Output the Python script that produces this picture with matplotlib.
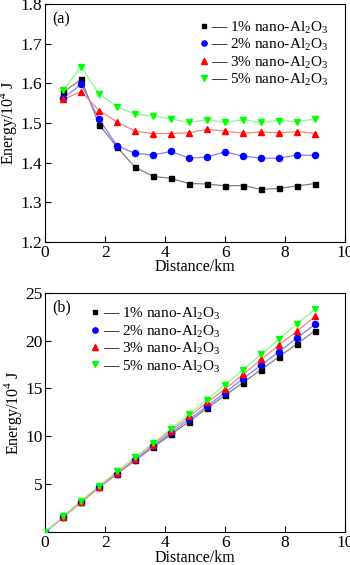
import numpy as np
import matplotlib
matplotlib.use("Agg")
import matplotlib.pyplot as plt

plt.rcParams['font.family'] = ['Liberation Serif', 'DejaVu Serif']
plt.rcParams['mathtext.fontset'] = 'custom'
plt.rcParams['mathtext.rm'] = 'Liberation Serif'

# (a) energy per segment
dist_a = [0.6, 1.2, 1.8, 2.4, 3.0, 3.6, 4.2, 4.8, 5.4, 6.0, 6.6, 7.2, 7.8, 8.4, 9.0]
e1_a = [1.577, 1.610, 1.495, 1.439, 1.388, 1.365, 1.360, 1.347, 1.346, 1.341, 1.342, 1.332, 1.335, 1.341, 1.347]
e2_a = [1.563, 1.597, 1.509, 1.442, 1.423, 1.419, 1.428, 1.411, 1.414, 1.427, 1.416, 1.411, 1.411, 1.419, 1.418]
e3_a = [1.559, 1.579, 1.531, 1.502, 1.479, 1.473, 1.473, 1.475, 1.484, 1.479, 1.474, 1.477, 1.475, 1.478, 1.473]
e5_a = [1.582, 1.642, 1.573, 1.541, 1.522, 1.517, 1.510, 1.501, 1.508, 1.501, 1.508, 1.501, 1.506, 1.503, 1.510]

# (b) cumulative energy
dist_b = [0.0, 0.6, 1.2, 1.8, 2.4, 3.0, 3.6, 4.2, 4.8, 5.4, 6.0, 6.6, 7.2, 7.8, 8.4, 9.0]
e1_b = [0.0, 1.58, 3.19, 4.68, 6.12, 7.51, 8.87, 10.20, 11.55, 12.95, 14.29, 15.62, 16.97, 18.32, 19.66, 21.05]
e2_b = [0.0, 1.56, 3.16, 4.67, 6.11, 7.53, 8.95, 10.38, 11.79, 13.15, 14.58, 16.02, 17.45, 18.85, 20.28, 21.70]
e3_b = [0.0, 1.56, 3.14, 4.68, 6.18, 7.66, 9.13, 10.60, 12.08, 13.56, 14.95, 16.47, 18.03, 19.55, 21.00, 22.52]
e5_b = [0.0, 1.65, 3.30, 4.85, 6.35, 7.85, 9.30, 10.80, 12.35, 13.85, 15.40, 16.95, 18.55, 20.15, 21.75, 23.30]

labels = ['1% nano-Al$_2$O$_3$', '2% nano-Al$_2$O$_3$', '3% nano-Al$_2$O$_3$', '5% nano-Al$_2$O$_3$']
markers = ['s', 'o', '^', 'v']
mcolors = ['#000000', '#0000ff', '#ff0000', '#00ff00']
lcolors = ['#808080', '#8080ff', '#ff8080', '#80ff80']
msizes = [3.6, 4.4, 4.6, 4.8]

fig = plt.figure(figsize=(3.5, 5.65), dpi=100)
ax1 = fig.add_axes([0.129, 0.572, 0.857, 0.421])
ax2 = fig.add_axes([0.129, 0.058, 0.857, 0.424])


def draw(ax, x, series):
    handles = []
    for ys, m, mc, lc, ms, lab in zip(series, markers, mcolors, lcolors, msizes, labels):
        ax.plot(x, ys, color=lc, lw=0.9, zorder=2)
        ax.plot(x, ys, ls='none', marker=m, ms=ms, mfc=mc, mec=mc, zorder=3)
        h, = ax.plot([], [], ls='none', marker=m, ms=ms - 0.6, mfc=mc, mec=mc)
        handles.append(h)
    return handles


h1 = draw(ax1, dist_a, [e1_a, e2_a, e3_a, e5_a])
h2 = draw(ax2, dist_b, [e1_b, e2_b, e3_b, e5_b])

for ax in (ax1, ax2):
    ax.set_xlim(0, 10)
    ax.set_xticks([0, 2, 4, 6, 8, 10])
    ax.tick_params(direction='in', length=4, width=0.8, labelsize=12.5, pad=2,
                   top=False, right=False)
    for s in ax.spines.values():
        s.set_linewidth(0.8)
    ax.set_xlabel('Distance/km', fontsize=11.5, labelpad=-1)
    ax.set_ylabel('Energy/10$^4$ J', fontsize=11.5, labelpad=1)

ax1.set_ylim(1.2, 1.8)
ax1.set_yticks([1.2, 1.3, 1.4, 1.5, 1.6, 1.7, 1.8])
ax1.set_yticklabels(['1.2', '1.3', '1.4', '1.5', '1.6', '1.7', '1.8'])
ax2.set_ylim(0, 25)
ax2.set_yticks([5, 10, 15, 20, 25])

ax1.text(0.025, 0.97, '(a)', transform=ax1.transAxes, fontsize=11.5, va='top')
ax2.text(0.025, 0.97, '(b)', transform=ax2.transAxes, fontsize=11.5, va='top')

leg_labels = ['\u2014 ' + l for l in labels]
ax1.legend(h1, leg_labels, loc='upper right', bbox_to_anchor=(0.975, 0.975), frameon=False,
           fontsize=11, handlelength=0.6, handletextpad=0.2, labelspacing=0.05,
           borderaxespad=0.2)
ax2.legend(h2, leg_labels, loc='upper left', bbox_to_anchor=(0.12, 0.985), frameon=False,
           fontsize=11, handlelength=0.6, handletextpad=0.2, labelspacing=0.05,
           borderaxespad=0.2)

fig.savefig('out.png', dpi=100)
